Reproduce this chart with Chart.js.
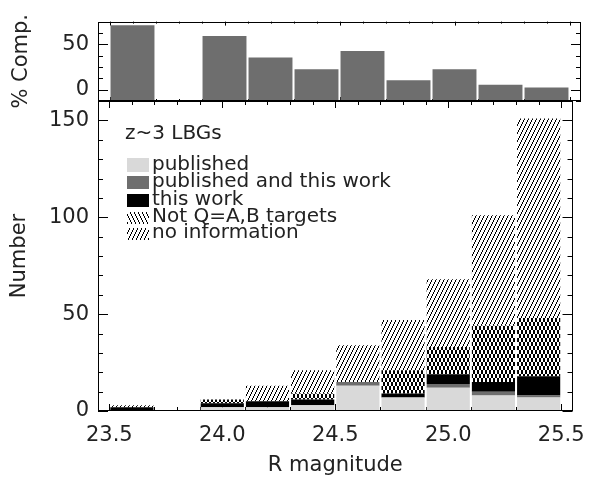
<!DOCTYPE html>
<html><head><meta charset="utf-8">
<script src="https://cdn.jsdelivr.net/npm/chart.js@4/dist/chart.umd.min.js"></script>
<style>
html,body{margin:0;padding:0;background:#fff;}
#wrap{position:relative;width:597px;height:478px;overflow:hidden;}
#wrap canvas{position:absolute;left:0;top:0;}
</style></head><body>
<div id="wrap"><canvas id="topc" width="597" height="478"></canvas><canvas id="botc" width="597" height="478"></canvas></div>
<script>
// ---- data ----
const binStart = [23.5, 23.7, 23.9, 24.1, 24.3, 24.5, 24.7, 24.9, 25.1, 25.3];
const completeness = [71, null, 59, 35.5, 22.5, 42.5, 10.3, 22.5, 5.3, 2.3];
const published = [0, 0, 2, 2, 3, 13, 7, 12, 8, 7];
const publishedAndThisWork = [0, 0, 0, 0, 0, 2, 0, 2, 2, 1];
const thisWork = [2, 0, 2, 3, 3, 0, 2, 5, 5, 10];
const notQAB = [0, 0, 2, 0, 3, 0, 12, 14, 29, 30];
const noInformation = [1, 0, 0, 8, 12, 19, 26, 35, 57, 103];
const seriesNames = ['published', 'published and this work', 'this work', 'Not Q=A,B targets', 'no information'];
const xTicks = [23.5, 24.0, 24.5, 25.0, 25.5];
const yTicksTop = [0, 50];
const yTicksBottom = [0, 50, 100, 150];
const panelLabel = 'z~3 LBGs';
const binWidth = 0.2;

const FONT = 'DejaVu Sans';
Chart.defaults.font.family = FONT;
Chart.defaults.font.size = 21;
Chart.defaults.color = '#222';
Chart.defaults.animation = false;

function hatch(dirs) {
  const w = 4, h = 8;
  const c = document.createElement('canvas'); c.width = w; c.height = h;
  const g = c.getContext('2d');
  g.fillStyle = '#fff'; g.fillRect(0, 0, w, h);
  g.fillStyle = '#000';
  for (let y = 0; y < h; y++) {
    if (dirs.indexOf('/') >= 0) g.fillRect(Math.floor((h - 1 - y) * w / h), y, 1, 1);
    if (dirs.indexOf('\\') >= 0) g.fillRect(Math.floor(y * w / h), y, 1, 1);
  }
  return g.createPattern(c, 'repeat');
}
const patDiag = hatch('/');
const patBack = hatch('\\');
const patCross = hatch('/\\');
const colors = ['#d9d9d9', '#6e6e6e', '#000000', patCross, patDiag];
const legendFills = ['#d9d9d9', '#6e6e6e', '#000000', patBack, patDiag];

function frameTicks(cfg) {
  return {
    id: 'frameTicks',
    beforeDatasetsDraw(chart) {
      const ctx = chart.ctx, a = chart.chartArea, xs = chart.scales.x, ys = chart.scales.y;
      ctx.save(); ctx.strokeStyle = '#000'; ctx.lineWidth = 1;
      ctx.beginPath();
      for (let v = xTicks[0]; v <= xTicks[xTicks.length - 1] + 1e-6; v += 0.1) {
        const major = Math.abs(v * 2 - Math.round(v * 2)) < 1e-6;
        const px = Math.round(xs.getPixelForValue(v)) + 0.5;
        const lt = major ? cfg.xTopMaj : cfg.xTopMin, lb = major ? cfg.xBotMaj : cfg.xBotMin;
        ctx.moveTo(px, a.top); ctx.lineTo(px, a.top + lt);
        ctx.moveTo(px, a.bottom); ctx.lineTo(px, a.bottom - lb);
      }
      for (let v = cfg.yMin; v <= cfg.yMax + 1e-6; v += cfg.yMinor) {
        const major = Math.abs(v / cfg.yMajor - Math.round(v / cfg.yMajor)) < 1e-6;
        const py = Math.round(ys.getPixelForValue(v)) + 0.5;
        const l = major ? 10 : 5;
        ctx.moveTo(a.left, py); ctx.lineTo(a.left + l, py);
        ctx.moveTo(a.right, py); ctx.lineTo(a.right - l, py);
      }
      ctx.stroke(); ctx.restore();
    },
    afterDatasetsDraw(chart) {
      const ctx = chart.ctx, a = chart.chartArea;
      ctx.save(); ctx.strokeStyle = '#000'; ctx.lineWidth = 1;
      ctx.strokeRect(Math.round(a.left) + 0.5, Math.round(a.top) + 0.5, Math.round(a.right - a.left) - 1, Math.round(a.bottom - a.top) - 1);
      ctx.restore();
    }
  };
}

const legendPlugin = {
  id: 'innerLegend',
  afterDraw(chart) {
    const ctx = chart.ctx;
    ctx.save();
    ctx.fillStyle = '#222';
    ctx.font = '20px "' + FONT + '"';
    ctx.textBaseline = 'alphabetic';
    ctx.fillText(panelLabel, 125, 139);
    const rows = [158, 176, 194, 212, 228];
    const hts = [14, 13, 13, 12, 12];
    seriesNames.forEach((n, i) => {
      ctx.fillStyle = legendFills[i];
      ctx.fillRect(127, rows[i], 22, hts[i]);
      ctx.fillStyle = '#222';
      ctx.fillText(n, 152, rows[i] + hts[i] - 2);
    });
    ctx.restore();
  }
};

const xScaleBase = {
  type: 'linear', min: 23.45, max: 25.55, offset: false,
  grid: { display: false, drawTicks: false }, border: { display: false },
  afterBuildTicks: s => { s.ticks = xTicks.map(v => ({ value: v })); }
};

// ---- top panel ----
new Chart(document.getElementById('topc'), {
  type: 'bar',
  data: {
    datasets: [{
      data: binStart.map((b, i) => ({ x: b + binWidth / 2, y: completeness[i] })),
      backgroundColor: '#6e6e6e', base: -12.5,
      barPercentage: 0.955, categoryPercentage: 1
    }]
  },
  options: {
    responsive: false, maintainAspectRatio: false,
    layout: { padding: { top: 15, right: 16, bottom: 377, left: 0 } },
    plugins: { legend: { display: false }, tooltip: { enabled: false } },
    scales: {
      x: Object.assign({}, xScaleBase, { display: false }),
      y: {
        min: -12.5, max: 75,
        grid: { display: false, drawTicks: false }, border: { display: false },
        afterBuildTicks: s => { s.ticks = yTicksTop.map(v => ({ value: v })); },
        afterFit: s => { s.width = 98; },
        ticks: { padding: 9 },
        title: { display: true, text: '% Comp.', padding: { top: 9, bottom: 0 } }
      }
    }
  },
  plugins: [frameTicks({ xTopMaj: 4, xTopMin: 2, xBotMaj: 4, xBotMin: 2, yMin: -12.5, yMax: 75, yMinor: 12.5, yMajor: 50 })]
});

// ---- bottom panel ----
const stacks = [published, publishedAndThisWork, thisWork, notQAB, noInformation];
new Chart(document.getElementById('botc'), {
  type: 'bar',
  data: {
    datasets: stacks.map((arr, k) => ({
      label: seriesNames[k],
      data: binStart.map((b, i) => ({ x: b + binWidth / 2, y: arr[i] })),
      backgroundColor: colors[k],
      barPercentage: 0.955, categoryPercentage: 1
    }))
  },
  options: {
    responsive: false, maintainAspectRatio: false,
    layout: { padding: { top: 101, right: 16, bottom: 0, left: 0 } },
    plugins: { legend: { display: false }, tooltip: { enabled: false } },
    scales: {
      x: Object.assign({}, xScaleBase, {
        stacked: true,
        afterFit: s => { s.height = 67; },
        ticks: { padding: 12, callback: v => Number(v).toFixed(1), maxRotation: 0 },
        title: { display: true, text: 'R magnitude', padding: { top: 0, bottom: 0 } }
      }),
      y: {
        stacked: true, min: 0, max: 160,
        grid: { display: false, drawTicks: false }, border: { display: false },
        afterBuildTicks: s => { s.ticks = yTicksBottom.map(v => ({ value: v })); },
        afterFit: s => { s.width = 98; },
        ticks: { padding: 9 },
        title: { display: true, text: 'Number', padding: { top: 7, bottom: 0 } }
      }
    }
  },
  plugins: [frameTicks({ xTopMaj: 7, xTopMin: 4, xBotMaj: 7, xBotMin: 4, yMin: 0, yMax: 160, yMinor: 10, yMajor: 50 }), legendPlugin]
});
</script>
</body></html>
